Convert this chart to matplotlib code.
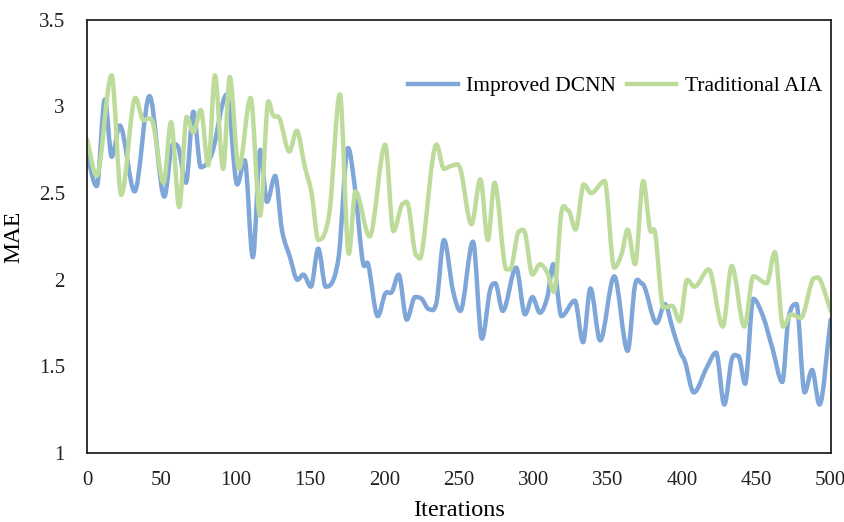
import numpy as np
import matplotlib
matplotlib.use("Agg")
import matplotlib.pyplot as plt
from matplotlib.path import Path
from matplotlib.patches import PathPatch
from matplotlib.lines import Line2D

# values (peaks / valleys of each curve)
dcnn_x = [0, 6.5, 12, 16.6, 22, 32, 42, 52, 57.5, 61.5, 66.5, 71.5, 76.5, 84, 94,
          101, 106, 111.5, 116.5, 121, 126.5, 131, 136.5, 141.5, 145.5, 150.5, 155.5,
          160.5, 169, 175.5, 180, 185.5, 189, 195.5, 200.5, 205, 209.5, 215, 220.5,
          225, 230, 235, 240, 246, 251, 259.5, 265.5, 271, 274.5, 279.5, 288.5, 294.5,
          299.5, 304.5, 309.5, 313.5, 319, 328, 333.5, 338.5, 345, 354.5, 363.5, 368.5,
          373, 383, 388.5, 394, 399, 402, 408, 416.5, 423, 428.5, 433.5, 438, 442.5,
          448, 454.5, 461, 467.5, 471.5, 477, 482.5, 487.5, 492.5, 500]
dcnn_y = [2.72, 2.54, 3.04, 2.71, 2.89, 2.51, 3.06, 2.48, 2.78, 2.76, 2.56, 2.97, 2.65, 2.73, 3.07,
          2.55, 2.69, 2.13, 2.75, 2.45, 2.60, 2.29, 2.13, 2.00, 2.03, 1.96, 2.18,
          1.96, 2.12, 2.76, 2.54, 2.10, 2.09, 1.79, 1.92, 1.93, 2.03, 1.77, 1.90,
          1.89, 1.83, 1.87, 2.23, 1.94, 1.82, 2.22, 1.66, 1.94, 1.98, 1.82, 2.07, 1.80,
          1.90, 1.81, 1.90, 2.09, 1.79, 1.88, 1.64, 1.95, 1.65, 2.02, 1.59, 1.97,
          1.98, 1.75, 1.86, 1.71, 1.58, 1.53, 1.35, 1.49, 1.58, 1.28, 1.54, 1.56, 1.40,
          1.89, 1.79, 1.60, 1.41, 1.77, 1.86, 1.35, 1.48, 1.28, 1.77]

aia_x = [0, 6.5, 16.5, 23, 32.5, 38, 41, 44.5, 51.5, 56.5, 62, 67, 71.5, 76.5, 81.5, 86,
         91.5, 96, 102, 110, 116.3, 122, 125, 129.5, 136, 141, 146.5, 151, 155.5, 163,
         170, 176, 180.5, 190, 200.5, 206, 212.5, 216, 221.5, 225, 235, 240, 246, 251,
         258.5, 264.5, 269.5, 274, 282, 284.5, 290.5, 294.5, 299.5, 304.5, 309.5, 314,
         319, 323.5, 328.5, 334, 339, 348, 354.5, 359.5, 363.5, 368.5, 374, 378.5, 382,
         387.5, 393.5, 398.5, 403.5, 408.5, 418, 427.5, 433.5, 442, 448, 457, 462.5,
         468, 473.5, 480, 489, 493, 500]
aia_y = [2.81, 2.60, 3.18, 2.49, 3.05, 2.92, 2.93, 2.90, 2.56, 2.91, 2.42, 2.94, 2.85, 2.98, 2.66, 3.18,
         2.64, 3.17, 2.64, 3.05, 2.37, 3.03, 2.95, 2.93, 2.74, 2.86, 2.65, 2.50, 2.23, 2.39,
         3.07, 2.15, 2.51, 2.25, 2.78, 2.28, 2.44, 2.43, 2.14, 2.15, 2.78, 2.64, 2.66, 2.64,
         2.32, 2.58, 2.23, 2.56, 2.06, 2.06, 2.28, 2.27, 2.03, 2.09, 2.04, 1.93,
         2.39, 2.40, 2.29, 2.55, 2.50, 2.57, 2.07, 2.15, 2.29, 2.09, 2.57, 2.29, 2.27,
         1.84, 1.85, 1.76, 2.00, 1.96, 2.06, 1.73, 2.08, 1.73, 2.02, 1.98, 2.16,
         1.73, 1.80, 1.78, 2.01, 2.00, 1.82]

x_ticks = [0, 50, 100, 150, 200, 250, 300, 350, 400, 450, 500]
y_ticks = [1, 1.5, 2, 2.5, 3, 3.5]

BLUE = "#7EA6D8"
GREEN = "#BDDC9C"


def smooth_path(xs, ys):
    # Excel-like smoothed line: cubic bezier between the points,
    # flat tangent at turning points so peaks stay where they were read
    xs = np.asarray(xs, float)
    ys = np.asarray(ys, float)
    n = len(xs)
    m = np.zeros(n)
    for i in range(n):
        if i == 0:
            m[i] = (ys[1] - ys[0]) / (xs[1] - xs[0])
        elif i == n - 1:
            m[i] = (ys[-1] - ys[-2]) / (xs[-1] - xs[-2])
        else:
            d0 = ys[i] - ys[i - 1]
            d1 = ys[i + 1] - ys[i]
            if d0 * d1 <= 0:
                m[i] = 0.0
            else:
                m[i] = (ys[i + 1] - ys[i - 1]) / (xs[i + 1] - xs[i - 1])
    verts = [(xs[0], ys[0])]
    codes = [Path.MOVETO]
    for i in range(n - 1):
        h = xs[i + 1] - xs[i]
        verts += [(xs[i] + h / 3, ys[i] + m[i] * h / 3),
                  (xs[i + 1] - h / 3, ys[i + 1] - m[i + 1] * h / 3),
                  (xs[i + 1], ys[i + 1])]
        codes += [Path.CURVE4] * 3
    return Path(verts, codes)


plt.rcParams['font.family'] = ['Liberation Serif', 'DejaVu Serif']

fig = plt.figure(figsize=(8.45, 5.22), dpi=100)
ax = fig.add_axes([0.103, 0.132, 0.880, 0.830])

for xs, ys, col in [(dcnn_x, dcnn_y, BLUE), (aia_x, aia_y, GREEN)]:
    ax.add_patch(PathPatch(smooth_path(xs, ys), fill=False, edgecolor=col,
                           linewidth=3.2, capstyle='round', joinstyle='round'))

ax.set_xlim(0, 500)
ax.set_ylim(1, 3.5)
ax.set_xticks(x_ticks)
ax.set_yticks(y_ticks)
ax.set_yticklabels([f"{v:g}" for v in y_ticks])
ax.tick_params(length=0, labelsize=15, colors="#222222")
ax.tick_params(axis='x', pad=13)
ax.tick_params(axis='y', pad=16)
for s in ax.spines.values():
    s.set_linewidth(1.3)
    s.set_color("#222222")

ax.set_xlabel("Iterations", fontsize=17.5, labelpad=7)
ax.set_ylabel("MAE", fontsize=17, labelpad=10)

handles = [Line2D([], [], color=BLUE, lw=3.2), Line2D([], [], color=GREEN, lw=3.2)]
ax.legend(handles, ["Improved DCNN", "Traditional AIA"], ncol=2, frameon=False,
          loc='upper right', bbox_to_anchor=(1.009, 0.905), fontsize=15.5,
          handlelength=2.3, columnspacing=0.5, handletextpad=0.4,
          borderaxespad=0.3)

fig.savefig("out.png", dpi=100)
